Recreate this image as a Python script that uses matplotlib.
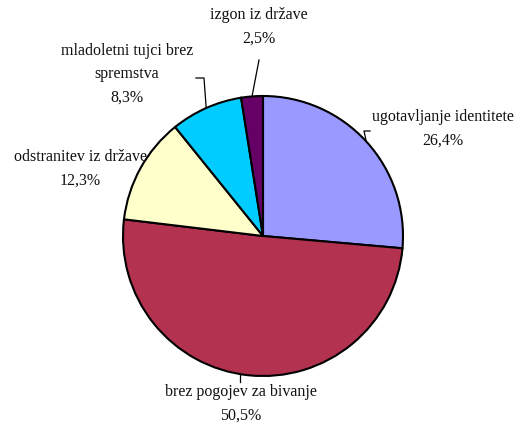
import numpy as np
import matplotlib
matplotlib.use('Agg')
import matplotlib.pyplot as plt

# Data
categories = ['ugotavljanje identitete', 'brez pogojev za bivanje', 'odstranitev iz države',
              'mladoletni tujci brez\nspremstva', 'izgon iz države']
shares = [26.4, 50.5, 12.3, 8.3, 2.5]
colors = ['#9999FF', '#B23250', '#FFFFCC', '#00CCFF', '#660066']

# Layout (pixel coordinates, y downwards)
center = (263, 236)
radius = 140
label_pos = [(443, 117), (241, 392), (80, 157), (127, 51), (259, 15)]
line_step = 23.5
# leader line points after the wedge edge point (None = no leader)
leaders = [[(364, 131), (370, 131)], [(240, 382)], None, [(204, 78), (196, 78)], [(259, 60)]]

plt.rcParams['font.family'] = ['Liberation Serif', 'DejaVu Serif']

fig = plt.figure(figsize=(5.2, 4.23), dpi=100)
ax = fig.add_axes([0, 0, 1, 1])

ax.pie(shares, colors=colors, center=center, radius=radius, startangle=-90,
       counterclock=True, wedgeprops=dict(edgecolor='black', linewidth=1.5))
ax.set_xlim(0, 520)
ax.set_ylim(423, 0)
ax.set_aspect('equal')
ax.axis('off')

# wedge middle angles (data coords, y inverted)
cum = np.cumsum([0] + shares)
mid = -90 + 3.6 * (cum[:-1] + cum[1:]) / 2

for i, name in enumerate(categories):
    lines = name.split('\n') + [f"{shares[i]:.1f}%".replace('.', ',')]
    x0, y0 = label_pos[i]
    for k, line in enumerate(lines):
        ax.text(x0, y0 + k * line_step, line, ha='center', va='center',
                fontsize=11.5, color='#111111')
    if leaders[i] is not None:
        a = np.deg2rad(mid[i])
        ex = center[0] + radius * np.cos(a)
        ey = center[1] + radius * np.sin(a)
        if i == 1:
            ex = leaders[i][0][0]
            ey = center[1] + np.sqrt(radius ** 2 - (ex - center[0]) ** 2)
        pts = [(ex, ey)] + leaders[i]
        ax.plot([p[0] for p in pts], [p[1] for p in pts], color='black', linewidth=0.9)

fig.savefig('out.png', dpi=100)
